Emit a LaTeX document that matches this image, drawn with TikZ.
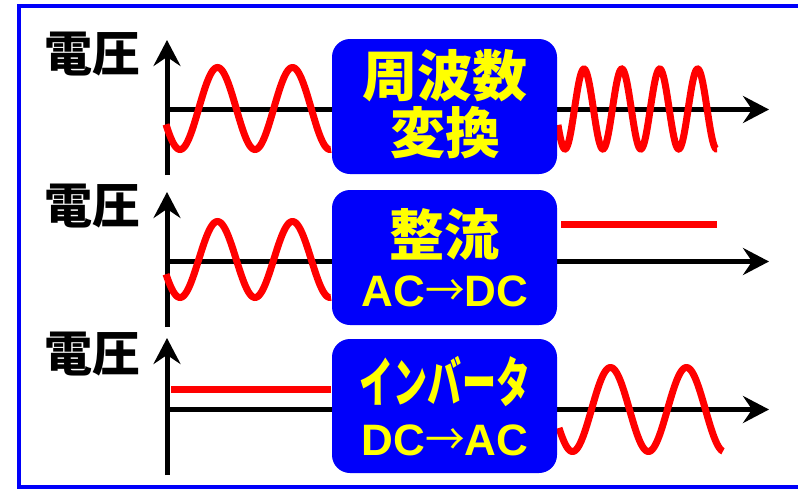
\documentclass[tikz,border=0pt]{standalone}
\usepackage{fontspec}
\setmainfont{Liberation Sans}
\newfontfamily\jp{Noto Sans CJK JP}
\usetikzlibrary{arrows.meta}
\definecolor{convblue}{RGB}{0,0,250}
\definecolor{frameblue}{RGB}{0,0,250}
\definecolor{wavered}{RGB}{255,0,0}
\definecolor{txtyellow}{RGB}{255,255,0}
\newcommand{\convarrow}{\scalebox{0.9}[1]{\jp\mdseries →}}
\begin{document}
\begin{tikzpicture}[x=1pt,y=-1pt,
  axis/.style={line width=5pt,-{Stealth[length=26pt,width=27pt,inset=9pt]}},
  wave/.style={draw=wavered,line width=7pt},
  conv/.style={fill=convblue,rounded corners=18pt,minimum width=225pt,minimum height=135pt,inner sep=0pt},
  ylab/.style={font=\jp\bfseries\fontsize{48}{48}\selectfont,inner sep=0pt},
  title/.style={text=txtyellow,font=\jp\bfseries\fontsize{55}{55}\selectfont,inner sep=0pt},
  sub/.style={text=txtyellow,font=\bfseries\fontsize{44}{44}\selectfont,inner sep=0pt}]
\useasboundingbox (0,0) rectangle (798,490);
\fill[white] (0,0) rectangle (798,490);
\draw[frameblue,line width=4pt] (19,6) rectangle (830,486.5);

% labels
\node[ylab] (l1) at (92,54) {電圧};
\node[ylab] (l2) at (92,206) {電圧};
\node[ylab] (l3) at (92,354) {電圧};

% axes
\coordinate (ob1) at (167,175);   \coordinate (ot1) at (167,40);
\coordinate (o1) at (167,109.5);  \coordinate (e1) at (769,109.5);
\coordinate (ob2) at (167,327);   \coordinate (ot2) at (167,192);
\coordinate (o2) at (167,261.5);  \coordinate (e2) at (769,261.5);
\coordinate (ob3) at (167,475);   \coordinate (ot3) at (167,338);
\coordinate (o3) at (167,409.5);  \coordinate (e3) at (769,409.5);
\draw[axis] (ob1) -- (ot1);
\draw[axis] (o1) -- (e1);
\draw[axis] (ob2) -- (ot2);
\draw[axis] (o2) -- (e2);
\draw[axis] (ob3) -- (ot3);
\draw[axis] (o3) -- (e3);

% waves
\draw[wave] plot[domain=166:331,samples=200] (\x,{108.5+41*cos((\x-180)*4.8)});
\draw[wave] plot[domain=558:717,samples=200] (\x,{109+40*cos((\x-565)*9.5)});
\draw[wave] plot[domain=166:331,samples=200] (\x,{259.5+38*cos((\x-180)*4.8)});
\coordinate (dc1a) at (561,224); \coordinate (dc1b) at (717,224);
\draw[wave] (dc1a) -- (dc1b);
\coordinate (dc2a) at (171,389); \coordinate (dc2b) at (331,389);
\draw[wave] (dc2a) -- (dc2b);
\draw[wave] plot[domain=559:723,samples=200] (\x,{409.5+42*cos((\x-572.5)*4.74)});

% converter boxes
\node[conv] (c1) at (444.5,106.5) {};
\node[conv] (c2) at (444.5,257.5) {};
\node[conv,minimum height=134pt] (c3) at (444.5,406) {};

\node[title] (c1a) at (444.5,76) {周波数};
\node[title] (c1b) at (445,133) {変換};
\node[title] (c2a) at (444,234) {整流};
\node[sub] (c2b) at (445,291) {AC\convarrow DC};
\node[title,font=\jp\bfseries\fontsize{54}{54}\selectfont] (c3a) at (445,381) {\scalebox{0.63}[1]{インバータ}};
\node[sub] (c3b) at (445,440) {DC\convarrow AC};
\end{tikzpicture}
\end{document}
